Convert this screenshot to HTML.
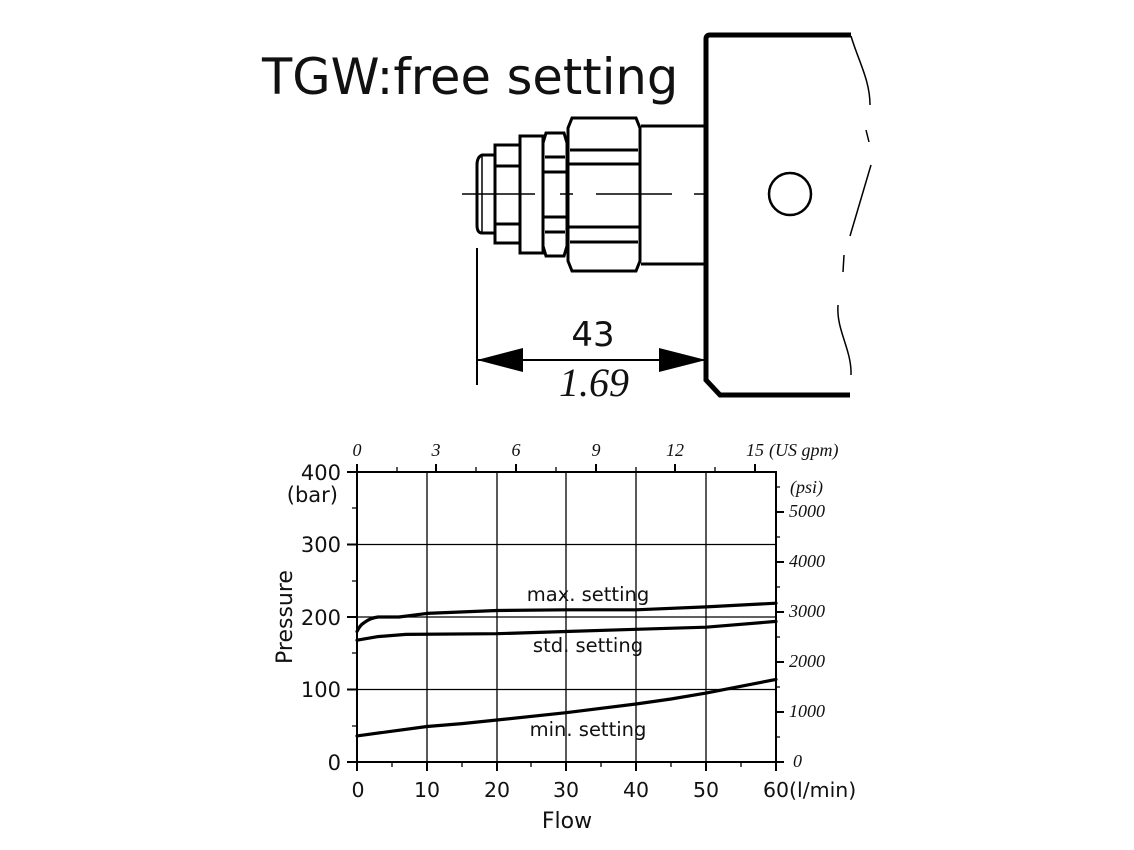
<!DOCTYPE html>
<html><head><meta charset="utf-8"><style>
html,body{margin:0;padding:0;background:#fff;}
svg{display:block;}
.s{font-family:"DejaVu Sans","Liberation Sans",sans-serif;fill:#111;}
.i{font-family:"Liberation Serif",serif;font-style:italic;fill:#111;}
</style></head><body>
<svg width="1134" height="850" viewBox="0 0 1134 850" xmlns="http://www.w3.org/2000/svg">
<text x="262" y="94" class="s" font-size="49.5">TGW:free setting</text>
<g fill="none" stroke="#000">
<path d="M851,35 L710,35 Q706,35 706,39 L706,380 L720,395 L850,395" stroke-width="5"/>
<circle cx="790" cy="194" r="21" stroke-width="2.5"/>
<path d="M851,36 C858,60 870,80 870,105" stroke-width="1.5"/>
<path d="M866,130 L869,142" stroke-width="1.5"/>
<path d="M871,165 L850,236" stroke-width="1.5"/>
<path d="M844,255 L843,272" stroke-width="1.5"/>
<path d="M838,305 C836,330 852,350 851,375" stroke-width="1.5"/>
<path d="M641,126 L706,126 M641,264 L706,264" stroke-width="3"/>
<path d="M572,118 L636,118 L640,128 L640,261 L636,271 L572,271 L568,261 L568,128 Z" stroke-width="3"/>
<path d="M570,150 L638,150 M568,164 L640,164 M568,227 L640,227 M570,242 L638,242" stroke-width="3"/>
<path d="M546,133 L564,133 L567,143 L567,246 L564,256 L546,256 L543,246 L543,143 Z" stroke-width="3"/>
<path d="M545,157 L565,157 M543,172 L567,172 M543,217 L567,217 M545,232 L565,232" stroke-width="3"/>
<rect x="520" y="136" width="23" height="117" stroke-width="3"/>
<rect x="495" y="145" width="25" height="98" stroke-width="3"/>
<path d="M495,166 L520,166 M495,224 L520,224" stroke-width="3"/>
<path d="M495,155 L482,155 Q477,157 477,165 L477,225 Q477,233 482,233 L495,233" stroke-width="3"/>
<path d="M482,156 L482,232" stroke-width="1.5"/>
<path d="M462,194 L535,194 M560,194 L573,194 M596,194 L672,194 M694,194 L706,194" stroke-width="1.5"/>
<path d="M477,248 L477,385 M477,360 L706,360" stroke-width="2"/>
</g>
<polygon points="477,360 523,348 523,372" fill="#000"/>
<polygon points="706,360 659,348 659,372" fill="#000"/>
<text x="593" y="346" class="s" font-size="34" text-anchor="middle">43</text>
<text x="594" y="396" class="i" font-size="40" text-anchor="middle">1.69</text>

<g stroke="#000" fill="none">
<path d="M357,472 L776,472 L776,762 L357,762 Z" stroke-width="2"/>
<path d="M427,472 V762 M497,472 V762 M566,472 V762 M636,472 V762 M706,472 V762" stroke-width="1.3"/>
<path d="M357,544.5 H776 M357,617 H776 M357,689.5 H776" stroke-width="1.3"/>
<path d="M347,472 H357 M347,544.5 H357 M347,617 H357 M347,689.5 H357 M347,762 H357" stroke-width="2"/>
<path d="M352,508 H357 M352,581 H357 M352,653 H357 M352,726 H357" stroke-width="1.3"/>
<path d="M357,762 V771 M427,762 V771 M497,762 V771 M566,762 V771 M636,762 V771 M706,762 V771 M776,762 V771" stroke-width="2"/>
<path d="M392,762 V767 M462,762 V767 M531,762 V767 M601,762 V767 M671,762 V767 M741,762 V767" stroke-width="1.3"/>
<path d="M357,464 V472 M436,464 V472 M516,464 V472 M596,464 V472 M675,464 V472 M755,464 V472" stroke-width="2"/>
<path d="M397,467 V472 M476,467 V472 M556,467 V472 M636,467 V472 M715,467 V472" stroke-width="1.3"/>
<path d="M776,762 H784 M776,712 H784 M776,662 H784 M776,612 H784 M776,562 H784 M776,512 H784" stroke-width="2"/>
<path d="M776,737 H780 M776,687 H780 M776,637 H780 M776,587 H780 M776,537 H780 M776,487 H780" stroke-width="1.3"/>
<g stroke-width="3.2" stroke-linejoin="round" stroke-linecap="round">
<path d="M357,631.5 Q360,625 364,622.8 Q370,618 378,617 L399,617 L427,613.4 L497,610.5 L566,609.8 L636,609.8 L706,606.9 L776,603.2"/>
<path d="M357,640.2 L378,636.6 L406,634.4 L497,633.7 L566,631.5 L636,629.3 L706,627.2 L776,621.4"/>
<path d="M357,735.9 L427,726.5 L462,723.6 L497,720 L566,712.7 L636,704 L671,699 L706,693.1 L776,679.4"/>
</g>
</g>
<g class="s" font-size="19.5" text-anchor="middle">
<text x="588" y="601">max. setting</text>
<text x="588" y="652">std. setting</text>
<text x="588" y="736">min. setting</text>
</g>
<g class="s" font-size="21" text-anchor="end">
<text x="341" y="480">400</text>
<text x="338" y="502">(bar)</text>
<text x="341" y="552">300</text>
<text x="341" y="625">200</text>
<text x="341" y="697">100</text>
<text x="341" y="770">0</text>
</g>
<text class="s" font-size="22" text-anchor="middle" transform="translate(292,617) rotate(-90)">Pressure</text>
<g class="s" font-size="20.5" text-anchor="middle">
<text x="358" y="797">0</text>
<text x="427" y="797">10</text>
<text x="497" y="797">20</text>
<text x="566" y="797">30</text>
<text x="636" y="797">40</text>
<text x="706" y="797">50</text>
<text x="776" y="797">60</text>
</g>
<text x="789" y="797" class="s" font-size="20.5">(l/min)</text>
<text x="567" y="828" class="s" font-size="22" text-anchor="middle">Flow</text>
<g class="i" font-size="18" text-anchor="middle">
<text x="357" y="456">0</text>
<text x="436" y="456">3</text>
<text x="516" y="456">6</text>
<text x="596" y="456">9</text>
<text x="675" y="456">12</text>
<text x="755" y="456">15</text>
</g>
<text x="769" y="456" class="i" font-size="18">(US gpm)</text>
<g class="i" font-size="18">
<text x="790" y="493">(psi)</text>
<text x="789" y="517">5000</text>
<text x="789" y="567">4000</text>
<text x="789" y="617">3000</text>
<text x="789" y="667">2000</text>
<text x="789" y="717">1000</text>
<text x="793" y="767">0</text>
</g>
</svg>
</body></html>
